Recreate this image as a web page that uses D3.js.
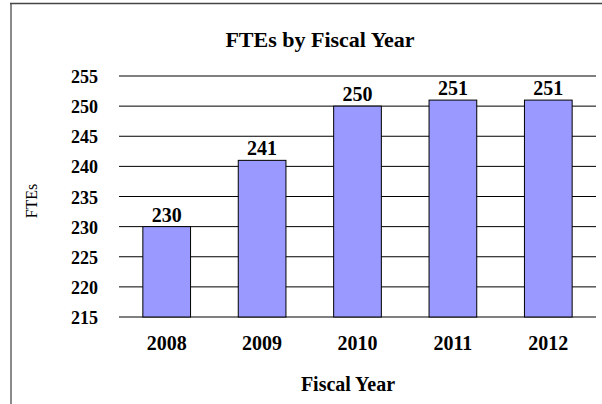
<!DOCTYPE html>
<html>
<head>
<meta charset="utf-8">
<script src="https://cdn.jsdelivr.net/npm/d3@7"></script>
<style>
  body { margin: 0; background: #fff; }
  text { font-family: "Liberation Serif", "Times New Roman", serif; }
</style>
</head>
<body>
<div id="chart"></div>
<script>
// values
const years = ["2008", "2009", "2010", "2011", "2012"];
const ftes = [230, 241, 250, 251, 251];
const yTicks = [215, 220, 225, 230, 235, 240, 245, 250, 255];

const width = 602, height = 404;
const plotLeft = 119, plotRight = 596, plotTop = 76, plotBottom = 317;

const svg = d3.select("#chart").append("svg")
  .attr("width", width)
  .attr("height", height);

// chart frame (only left and top edges fall inside the picture)
svg.append("line")
  .attr("x1", 11).attr("y1", 3).attr("x2", 11).attr("y2", height)
  .attr("stroke", "#8a8a8a").attr("stroke-width", 2);
svg.append("line")
  .attr("x1", 10).attr("y1", 3.5).attr("x2", width).attr("y2", 3.5)
  .attr("stroke", "#444").attr("stroke-width", 1.5);

const x = d3.scaleBand()
  .domain(years)
  .range([plotLeft, plotRight])
  .paddingInner(0.5)
  .paddingOuter(0.25);

const y = d3.scaleLinear()
  .domain([215, 255])
  .range([plotBottom, plotTop]);

// gridlines
svg.append("g")
  .selectAll("line")
  .data(yTicks)
  .enter().append("line")
  .attr("x1", plotLeft).attr("x2", plotRight)
  .attr("y1", d => y(d)).attr("y2", d => y(d))
  .attr("stroke", "#000")
  .attr("stroke-width", 1);

// y tick labels
svg.append("g")
  .selectAll("text")
  .data(yTicks)
  .enter().append("text")
  .attr("x", 98)
  .attr("y", d => y(d) + 7)
  .attr("text-anchor", "end")
  .style("font-size", "18px")
  .style("font-weight", "bold")
  .text(d => d);

// bars
svg.append("g")
  .selectAll("rect")
  .data(ftes)
  .enter().append("rect")
  .attr("x", (d, i) => x(years[i]))
  .attr("y", d => y(d))
  .attr("width", x.bandwidth())
  .attr("height", d => y(215) - y(d))
  .attr("fill", "#9999ff")
  .attr("stroke", "#000")
  .attr("stroke-width", 1);

// value labels
svg.append("g")
  .selectAll("text")
  .data(ftes)
  .enter().append("text")
  .attr("x", (d, i) => x(years[i]) + x.bandwidth() / 2)
  .attr("y", d => y(d) - 5)
  .attr("text-anchor", "middle")
  .style("font-size", "20px")
  .style("font-weight", "bold")
  .text(d => d);

// category labels
svg.append("g")
  .selectAll("text")
  .data(years)
  .enter().append("text")
  .attr("x", d => x(d) + x.bandwidth() / 2)
  .attr("y", 350)
  .attr("text-anchor", "middle")
  .style("font-size", "20px")
  .style("font-weight", "bold")
  .text(d => d);

// titles
svg.append("text")
  .attr("x", 320).attr("y", 47)
  .attr("text-anchor", "middle")
  .style("font-size", "22px")
  .style("font-weight", "bold")
  .text("FTEs by Fiscal Year");

svg.append("text")
  .attr("x", 348).attr("y", 391)
  .attr("text-anchor", "middle")
  .style("font-size", "20px")
  .style("font-weight", "bold")
  .text("Fiscal Year");

svg.append("text")
  .attr("transform", "translate(37,201) rotate(-90)")
  .attr("text-anchor", "middle")
  .style("font-size", "16px")
  .text("FTEs");
</script>
</body>
</html>
